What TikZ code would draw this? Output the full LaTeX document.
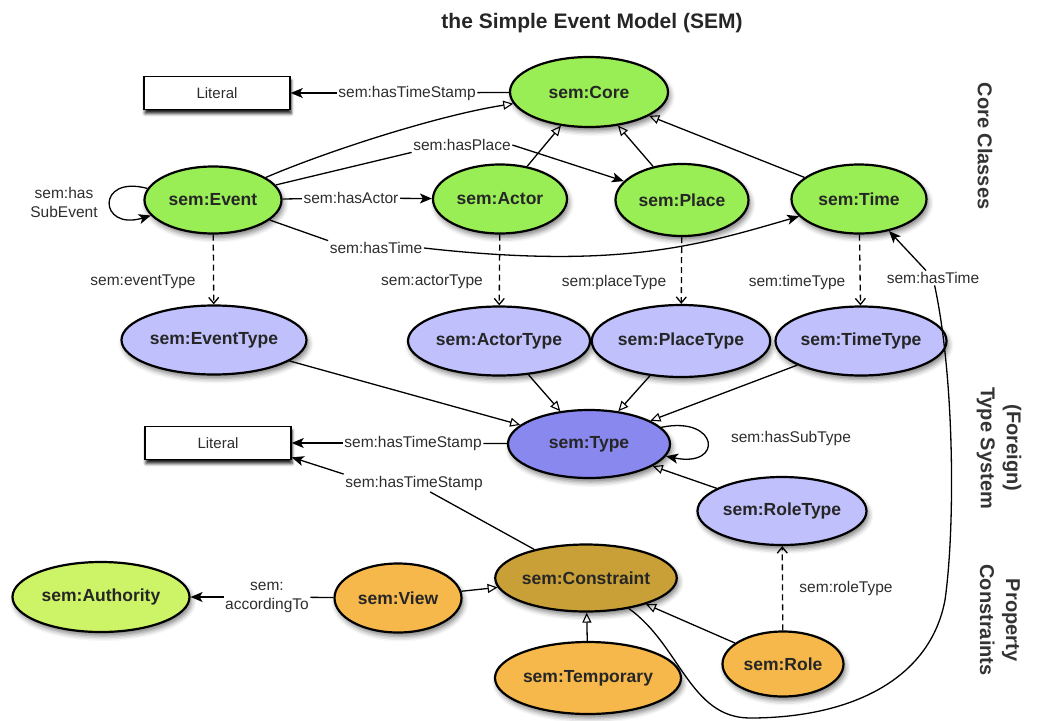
\documentclass[tikz,border=0pt]{standalone}
\usepackage{fontspec}
\setmainfont{Liberation Sans}
\usepackage{xcolor}
\usetikzlibrary{arrows.meta,shapes.geometric,shadows.blur}
\definecolor{coregreen}{RGB}{153,238,85}
\definecolor{authgreen}{RGB}{204,244,102}
\definecolor{typelight}{RGB}{192,192,252}
\definecolor{typedark}{RGB}{136,136,238}
\definecolor{constrgold}{RGB}{200,160,55}
\definecolor{viewamber}{RGB}{246,184,74}
\definecolor{lblgray}{RGB}{45,45,45}

\begin{document}
\begin{tikzpicture}[x=1pt, y=-1pt,
    semclass/.style={ellipse, draw=black, line width=2.2pt, inner sep=0pt,
        minimum height=69pt, font=\fontsize{17.5}{20}\selectfont\bfseries,
        text=black!85,
        blur shadow={shadow xshift=2pt, shadow yshift=-4pt,
            shadow blur radius=5pt, shadow opacity=50}},
    literal/.style={rectangle, draw=black, line width=1.5pt, fill=white,
        minimum width=146pt, minimum height=33pt, inner sep=0pt,
        font=\fontsize{15}{17}\selectfont, text=lblgray,
        blur shadow={shadow xshift=1pt, shadow yshift=-4pt,
            shadow blur radius=3pt, shadow opacity=90}},
    lbl/.style={inner sep=1.5pt, font=\fontsize{15.5}{17}\selectfont,
        text=lblgray, align=center},
    group/.style={font=\fontsize{20}{26}\selectfont\bfseries, text=black!80,
        rotate=-90, align=center},
    plain/.style={line width=1.3pt},
    has/.style={line width=1.3pt, -{Stealth[length=12pt, width=10pt, inset=3pt]}},
    isa/.style={line width=1.3pt, -{Triangle[open, length=10pt, width=9pt, line width=1.1pt]}},
    typeof/.style={line width=1.3pt, dash pattern=on 6pt off 4pt,
        -{Straight Barb[length=6pt, width=10pt]}}]
\useasboundingbox (0,0) rectangle (1041,720);
			%   %   %   %   %   %   %   %   %   %   %
			%   Title
				\node[anchor=base, font=\fontsize{21}{25}\selectfont\bfseries, text=black!85]
				(title) at (592,28) {the Simple Event Model (SEM)};
			%   %   %   %   %   %   %   %   %   %   %
			%   Core classes
				\node[literal] (LitCore) at (217,93) {Literal};
				\node[semclass, fill=coregreen, minimum width=158pt, minimum height=70pt] (Core) at (589,92) {sem:Core};
				\node[semclass, fill=coregreen, minimum width=137pt, minimum height=67pt] (Event) at (213,200) {sem:Event};
				\node[semclass, fill=coregreen, minimum width=134pt] (Actor) at (500,199) {sem:Actor};
				\node[semclass, fill=coregreen, minimum width=133pt, minimum height=72pt] (Place) at (682,200) {sem:Place};
				\node[semclass, fill=coregreen, minimum width=135pt] (Time) at (859,199) {sem:Time};
			%   %   %   %   %   %   %   %   %   %   %
			%   Type system
				\node[semclass, fill=typelight, minimum width=185pt] (EventType) at (214,340) {sem:EventType};
				\node[semclass, fill=typelight, minimum width=182pt] (ActorType) at (499,341) {sem:ActorType};
				\node[semclass, fill=typelight, minimum width=175pt, minimum height=72pt] (PlaceType) at (681,341) {sem:PlaceType};
				\node[semclass, fill=typelight, minimum width=168pt] (TimeType) at (861,341) {sem:TimeType};
				\node[semclass, fill=typedark, minimum width=162pt, minimum height=68pt] (Type) at (589,444) {sem:Type};
				\node[semclass, fill=typelight, minimum width=169pt, minimum height=68pt] (RoleType) at (782,511) {sem:RoleType};
				\node[literal] (LitType) at (218,443) {Literal};
			%   %   %   %   %   %   %   %   %   %   %
			%   Property constraints
				\node[semclass, fill=constrgold, minimum width=166pt, minimum height=67pt] (Constraint) at (586,578) {sem:Constraint};
				\node[semclass, fill=viewamber, minimum width=127pt] (View) at (398,598) {sem:View};
				\node[semclass, fill=authgreen, minimum width=177pt, minimum height=70pt] (Authority) at (101,597) {sem:Authority};
				\node[semclass, fill=viewamber, minimum width=186pt, minimum height=72pt] (Temporary) at (588,678) {sem:Temporary};
				\node[semclass, fill=viewamber, minimum width=121pt, minimum height=65pt] (Role) at (783,664) {sem:Role};
			%   %   %   %   %   %   %   %   %   %   %
			%   Group captions
				\node[group] (grpCore) at (985,146) {Core Classes};
				\node[group] (grpType) at (999,448) {(Foreign)\\Type System};
				\node[group] (grpProp) at (1000,620) {Property\\Constraints};
			%   %   %   %   %   %   %   %   %   %   %
			%   Edge labels
				\node[lbl] (lblCoreStamp) at (407,93) {sem:hasTimeStamp};
				\node[lbl] (lblPlace) at (462,145) {sem:hasPlace};
				\node[lbl] (lblActor) at (351,198) {sem:hasActor};
				\node[lbl] (lblTime) at (376,248) {sem:hasTime};
				\node[lbl, font=\fontsize{15.5}{19}\selectfont] (lblSubEvent) at (64,202) {sem:has\\SubEvent};
				\node[lbl] (lblEventType) at (143,282) {sem:eventType};
				\node[lbl] (lblActorType) at (432,282) {sem:actorType};
				\node[lbl] (lblPlaceType) at (614,282) {sem:placeType};
				\node[lbl] (lblTimeType) at (797,282) {sem:timeType};
				\node[lbl] (lblTime2) at (933,278) {sem:hasTime};
				\node[lbl] (lblTypeStamp) at (413,443) {sem:hasTimeStamp};
				\node[lbl] (lblSubType) at (791,438) {sem:hasSubType};
				\node[lbl] (lblConstrStamp) at (414,483) {sem:hasTimeStamp};
				\node[lbl] (lblRoleType) at (846,588) {sem:roleType};
				\node[lbl, font=\fontsize{15.5}{19}\selectfont] (lblAccording) at (267,597) {sem:\\accordingTo};
			%   %   %   %   %   %   %   %   %   %   %
			%   Subclasses of sem:Core
				\draw[isa] (Event) .. controls (330,150) and (440,115) .. (Core);
				\draw[isa] (Actor) -- (Core);
				\draw[isa] (Place) -- (Core);
				\draw[isa] (Time) -- (Core);
			%   %   %   %   %   %   %   %   %   %   %
			%   Event properties
				\draw[plain] (Core) -- (lblCoreStamp);
				\draw[has] (lblCoreStamp) -- (LitCore);
				\draw[plain] (Event) -- (lblPlace.south west);
				\draw[has] (lblPlace.east) -- (Place);
				\draw[plain] (Event) -- (lblActor);
				\draw[has] (lblActor) -- (Actor);
				\draw[plain] (Event) -- (lblTime.north west);
				\draw[has] (lblTime.east) .. controls (620,270) and (700,245) .. (Time);
				\draw[has] (Event.170) .. controls +(-52,-14) and +(-52,16) .. (Event.194);
			%   %   %   %   %   %   %   %   %   %   %
			%   Type links
				\draw[typeof] (Event) -- (EventType);
				\draw[typeof] (Actor) -- (ActorType);
				\draw[typeof] (Place) -- (PlaceType);
				\draw[typeof] (Time) -- (TimeType);
				\draw[typeof] (Role) -- (RoleType);
			%   %   %   %   %   %   %   %   %   %   %
			%   Subclasses of sem:Type
				\draw[isa] (EventType) -- (Type);
				\draw[isa] (ActorType) -- (Type);
				\draw[isa] (PlaceType) -- (Type);
				\draw[isa] (TimeType) -- (Type);
				\draw[isa] (RoleType) -- (Type);
				\draw[has] (Type.13) .. controls +(58,-12) and +(58,12) .. (Type.-9);
				\draw[plain] (Type) -- (lblTypeStamp);
				\draw[has] (lblTypeStamp) -- (LitType);
			%   %   %   %   %   %   %   %   %   %   %
			%   Constraints
				\draw[isa] (View) -- (Constraint);
				\draw[isa] (Temporary) -- (Constraint);
				\draw[isa] (Role) -- (Constraint);
				\draw[plain] (lblAccording) -- (View);
				\draw[has] (lblAccording) -- (Authority);
				\draw[plain] (Constraint) -- (lblConstrStamp);
				\draw[has] (lblConstrStamp.north west) -- (LitType.-11);
				\draw[plain] (Constraint) .. controls (680,645) and (690,718) .. (750,718)
				.. controls (850,718) and (930,680) .. (945,600)
				.. controls (955,530) and (955,380) .. (lblTime2);
				\draw[has] (lblTime2) -- (Time);
		\end{tikzpicture}
\end{document}
